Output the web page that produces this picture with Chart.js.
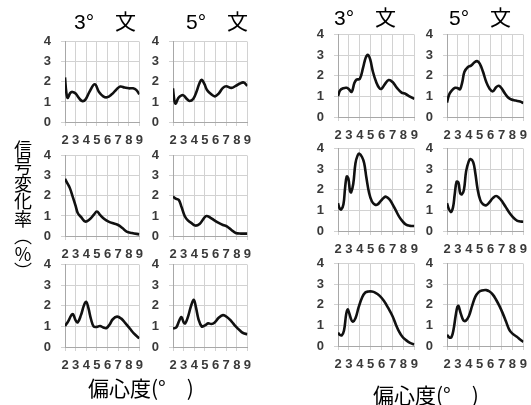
<!DOCTYPE html>
<html>
<head>
<meta charset="utf-8">
<script src="https://cdn.jsdelivr.net/npm/chart.js@4.4.1/dist/chart.umd.min.js"></script>
<style>
  html, body { margin: 0; padding: 0; background: #fff; }
  #stage { position: relative; width: 531px; height: 405px; overflow: hidden; background: #fff; }
  #stage canvas { position: absolute; }
  .ttl { position: absolute; font-family: "Liberation Sans", "Noto Sans CJK JP", sans-serif; font-size: 21px; color: #000; white-space: pre; line-height: 1; }
  .ytitle { position: absolute; writing-mode: vertical-rl; font-family: "Noto Sans CJK JP", sans-serif; font-size: 18px; line-height: 1; color: #000; letter-spacing: -0.5px; }
  .xtitle { position: absolute; font-family: "Noto Sans CJK JP", "Liberation Sans", sans-serif; font-size: 21px; color: #000; white-space: pre; line-height: 1; }
</style>
</head>
<body>
<div id="stage"></div>
<script>
// Signal change rate (%) versus eccentricity (deg), six small panels per group.
const xTicks = [2, 3, 4, 5, 6, 7, 8, 9];
const yTicks = [0, 1, 2, 3, 4];
const columnTitles = ['3°　文', '5°　文'];
const yTitle = '信号変化率（％）';
const xTitle = '偏心度(°　)';

// left group, column "3°"
const leftA3 = [[2.0,2.22],[2.12,1.5],[2.25,1.2],[2.5,1.45],[2.7,1.5],[3.0,1.42],[3.3,1.2],[3.6,1.05],[3.9,1.1],[4.3,1.5],[4.8,1.88],[5.2,1.5],[5.6,1.28],[5.95,1.23],[6.4,1.38],[6.8,1.6],[7.2,1.77],[7.6,1.72],[8.0,1.68],[8.4,1.68],[8.7,1.6],[9.0,1.38]];
const leftB3 = [[2.0,2.85],[2.2,2.65],[2.45,2.4],[2.7,2.0],[3.0,1.5],[3.2,1.15],[3.5,0.95],[3.9,0.72],[4.3,0.82],[4.7,1.05],[5.0,1.22],[5.3,1.05],[5.7,0.85],[6.1,0.72],[6.6,0.62],[7.0,0.55],[7.4,0.4],[7.8,0.22],[8.3,0.15],[9.0,0.08]];
const leftC3 = [[2.0,1.02],[2.3,1.25],[2.6,1.55],[2.75,1.6],[3.0,1.3],[3.2,1.2],[3.5,1.55],[3.8,2.05],[4.0,2.2],[4.2,1.9],[4.45,1.35],[4.7,1.0],[5.0,0.98],[5.3,1.02],[5.6,0.95],[5.9,0.92],[6.2,1.1],[6.5,1.35],[6.9,1.48],[7.3,1.38],[7.7,1.15],[8.1,0.9],[8.5,0.65],[9.0,0.42]];
// left group, column "5°"
const leftA5 = [[2.0,1.68],[2.12,1.1],[2.25,0.92],[2.5,1.2],[2.8,1.33],[3.0,1.32],[3.3,1.15],[3.55,1.05],[3.9,1.15],[4.2,1.5],[4.5,1.95],[4.7,2.1],[4.95,1.9],[5.2,1.6],[5.6,1.38],[5.95,1.28],[6.3,1.42],[6.7,1.7],[7.0,1.78],[7.5,1.7],[7.9,1.8],[8.3,1.92],[8.65,1.97],[9.0,1.8]];
const leftB5 = [[2.0,1.97],[2.3,1.85],[2.55,1.8],[2.8,1.45],[3.1,1.0],[3.4,0.78],[3.8,0.62],[4.1,0.52],[4.5,0.6],[4.9,0.88],[5.15,1.0],[5.5,0.92],[5.9,0.78],[6.3,0.65],[6.7,0.55],[7.1,0.47],[7.5,0.3],[7.9,0.15],[8.4,0.12],[9.0,0.12]];
const leftC5 = [[2.0,0.9],[2.3,0.95],[2.6,1.3],[2.8,1.45],[3.0,1.2],[3.15,1.15],[3.4,1.45],[3.7,2.0],[3.95,2.3],[4.15,1.95],[4.4,1.35],[4.7,1.0],[5.0,1.05],[5.3,1.15],[5.6,1.12],[5.9,1.18],[6.3,1.42],[6.7,1.55],[7.1,1.45],[7.5,1.25],[7.9,1.0],[8.3,0.8],[8.6,0.68],[9.0,0.62]];
// right group, column "3°"
const rightA3 = [[2.0,1.02],[2.2,1.3],[2.5,1.4],[2.8,1.42],[3.0,1.35],[3.25,1.22],[3.5,1.65],[3.7,1.82],[4.0,1.85],[4.3,2.4],[4.55,2.9],[4.75,3.02],[4.95,2.8],[5.2,2.2],[5.5,1.7],[5.8,1.4],[6.0,1.38],[6.3,1.6],[6.65,1.8],[7.0,1.7],[7.4,1.42],[7.8,1.2],[8.2,1.12],[8.5,1.02],[9.0,0.88]];
const rightB3 = [[2.0,1.35],[2.15,1.1],[2.3,1.05],[2.5,1.3],[2.65,2.1],[2.8,2.65],[2.95,2.55],[3.1,1.95],[3.2,1.88],[3.4,2.3],[3.6,3.3],[3.8,3.68],[3.95,3.76],[4.2,3.6],[4.4,3.3],[4.6,2.6],[4.85,1.85],[5.1,1.45],[5.35,1.3],[5.6,1.28],[5.9,1.45],[6.2,1.62],[6.4,1.67],[6.7,1.55],[7.0,1.3],[7.3,1.0],[7.6,0.7],[7.9,0.48],[8.2,0.32],[8.6,0.25],[9.0,0.24]];
const rightC3 = [[2.0,0.65],[2.15,0.55],[2.35,0.52],[2.55,0.75],[2.75,1.55],[2.88,1.78],[3.0,1.65],[3.2,1.3],[3.35,1.18],[3.6,1.35],[3.9,1.9],[4.2,2.35],[4.5,2.6],[4.8,2.65],[5.1,2.65],[5.4,2.6],[5.8,2.45],[6.2,2.2],[6.6,1.85],[7.0,1.45],[7.3,1.05],[7.6,0.7],[7.9,0.45],[8.2,0.3],[8.6,0.15],[9.0,0.08]];
// right group, column "5°"
const rightA5 = [[2.0,0.7],[2.2,1.1],[2.45,1.3],[2.75,1.42],[3.0,1.4],[3.2,1.35],[3.4,1.7],[3.6,2.2],[3.9,2.42],[4.2,2.5],[4.5,2.65],[4.75,2.72],[5.0,2.6],[5.3,2.2],[5.6,1.7],[5.9,1.38],[6.2,1.25],[6.5,1.45],[6.75,1.52],[7.0,1.4],[7.3,1.15],[7.6,0.95],[7.9,0.85],[8.3,0.8],[8.7,0.75],[9.0,0.68]];
const rightB5 = [[2.0,1.35],[2.15,1.1],[2.35,0.92],[2.55,1.15],[2.7,1.75],[2.88,2.4],[3.05,2.35],[3.2,1.85],[3.35,1.78],[3.55,2.0],[3.75,2.9],[4.0,3.4],[4.15,3.5],[4.4,3.35],[4.6,2.8],[4.8,2.05],[5.05,1.5],[5.3,1.3],[5.6,1.25],[5.9,1.4],[6.2,1.6],[6.5,1.7],[6.8,1.6],[7.1,1.4],[7.4,1.15],[7.7,0.9],[8.0,0.7],[8.3,0.55],[8.6,0.47],[9.0,0.45]];
const rightC5 = [[2.0,0.55],[2.2,0.42],[2.4,0.42],[2.6,0.8],[2.8,1.5],[2.95,1.9],[3.05,1.95],[3.25,1.6],[3.5,1.25],[3.7,1.22],[4.0,1.45],[4.3,1.95],[4.6,2.4],[4.9,2.62],[5.2,2.7],[5.6,2.72],[5.9,2.65],[6.2,2.5],[6.5,2.25],[6.8,1.95],[7.1,1.6],[7.4,1.2],[7.7,0.8],[8.0,0.6],[8.4,0.45],[8.7,0.32],[9.0,0.2]];

// plot-area boxes [left, right] per column and [top, bottom] per row
const groups = [
  { cols: [[65, 139], [173, 247]], rows: [[42, 122], [156, 236], [265, 347]],
    series: [[leftA3, leftB3, leftC3], [leftA5, leftB5, leftC5]] },
  { cols: [[338, 414], [447, 523]], rows: [[35, 117], [149, 231], [264, 346]],
    series: [[rightA3, rightB3, rightC3], [rightA5, rightB5, rightC5]] }
];

const stage = document.getElementById('stage');
const Y_AXIS_W = 38, X_AXIS_H = 28;
const tickFont = { family: '"Liberation Sans", Arial, sans-serif', size: 13, weight: 'bold' };

function makePanel(box, points) {
  const [l, r] = box.x, [t, b] = box.y;
  let w = r - l + Y_AXIS_W + 12, h = b - t + X_AXIS_H + 16;
  const cv = document.createElement('canvas');
  cv.width = w; cv.height = h;
  stage.appendChild(cv);
  const chart = new Chart(cv, {
    type: 'line',
    data: { datasets: [{
      data: points.map(p => ({ x: p[0], y: p[1] })),
      borderColor: '#111', borderWidth: 2.6, tension: 0.4,
      pointRadius: 0, fill: false
    }] },
    options: {
      responsive: false, maintainAspectRatio: false, animation: false, devicePixelRatio: 1,
      layout: { padding: 0 },
      plugins: { legend: { display: false }, tooltip: { enabled: false } },
      scales: {
        x: {
          type: 'linear', min: xTicks[0], max: xTicks[xTicks.length - 1],
          afterBuildTicks: s => { s.ticks = xTicks.map(v => ({ value: v })); },
          afterFit: s => { s.height = X_AXIS_H; },
          grid: { color: '#d2d2d2', lineWidth: 1, tickLength: 4 },
          border: { color: '#a8a8a8', width: 1 },
          ticks: { autoSkip: false, maxRotation: 0, padding: 7, color: '#3a3a3a', font: tickFont }
        },
        y: {
          type: 'linear', min: yTicks[0], max: yTicks[yTicks.length - 1],
          afterBuildTicks: s => { s.ticks = yTicks.map(v => ({ value: v })); },
          afterFit: s => { s.width = Y_AXIS_W; },
          grid: { color: '#d2d2d2', lineWidth: 1, tickLength: 4 },
          border: { color: '#a8a8a8', width: 1 },
          ticks: { autoSkip: false, padding: 10, color: '#3a3a3a', font: tickFont }
        }
      }
    }
  });
  // grow the canvas so that the plot area gets exactly the wanted size
  const a = chart.chartArea;
  w += (r - l) - (a.right - a.left);
  h += (b - t) - (a.bottom - a.top);
  chart.resize(Math.round(w), Math.round(h));
  const a2 = chart.chartArea;
  cv.style.left = (l - a2.left) + 'px';
  cv.style.top = (t - a2.top) + 'px';
}

groups.forEach(g => {
  g.cols.forEach((cx, ci) => {
    g.rows.forEach((ry, ri) => makePanel({ x: cx, y: ry }, g.series[ci][ri]));
  });
});

function addText(cls, text, left, top) {
  const d = document.createElement('div');
  d.className = cls; d.textContent = text;
  d.style.left = left + 'px'; d.style.top = top + 'px';
  stage.appendChild(d);
  return d;
}

// column headings
addText('ttl', columnTitles[0], 74, 11);
addText('ttl', columnTitles[1], 186, 11);
addText('ttl', columnTitles[0], 334, 7);
addText('ttl', columnTitles[1], 449, 7);
// vertical y-axis title
addText('ytitle', yTitle, 14, 140);
// x-axis titles
addText('xtitle', xTitle, 88, 377);
addText('xtitle', xTitle, 373, 384);
</script>
</body>
</html>
